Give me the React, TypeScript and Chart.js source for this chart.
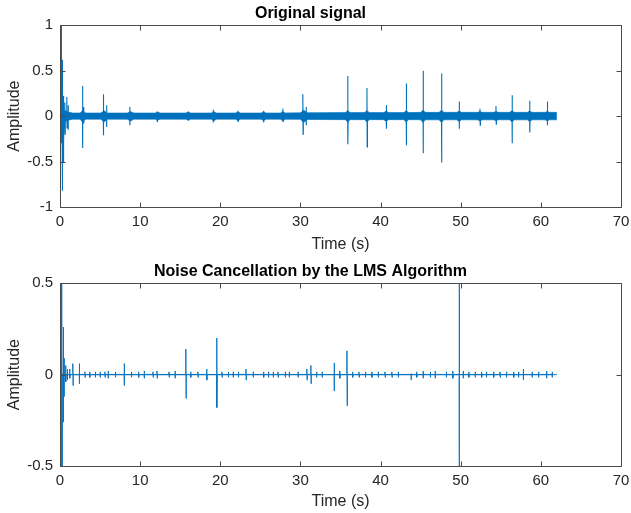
import React, { useEffect, useRef } from "react";
import { Chart, registerables } from "chart.js";
Chart.register(...registerables);

const FONT = "'Liberation Sans', Arial, Helvetica, sans-serif";
const BLUE = "#0072BD";
const AXIS = "#4a4a4a";
const TEXT = "#262626";

const xTicks = [0, 10, 20, 30, 40, 50, 60, 70];
const topYTicks = [-1, -0.5, 0, 0.5, 1];
const botYTicks = [-0.5, 0, 0.5];

const topTitle = "Original signal";
const botTitle = "Noise Cancellation by the LMS Algorithm";
const xLabel = "Time (s)";
const yLabel = "Amplitude";

// Original signal: background noise envelope
const topBandTime = [0, 0.4, 1.0, 1.6, 2.5, 2.8, 3.2, 5.1, 5.5, 5.9, 8.4, 8.8, 9.2, 11.9, 12.2, 12.5, 15.7, 16.0, 16.3, 18.9, 19.2, 19.5, 21.9, 22.2, 22.5, 25.1, 25.4, 25.7, 27.5, 27.8, 28.1, 30.0, 30.4, 30.9, 35.6, 35.9, 36.2, 38.0, 38.3, 38.6, 40.4, 40.7, 41.0, 42.9, 43.2, 43.5, 45.0, 45.3, 45.6, 47.3, 47.6, 47.9, 49.5, 49.8, 50.1, 52.1, 52.4, 52.7, 54.1, 54.4, 54.7, 56.1, 56.4, 56.7, 58.3, 58.6, 58.9, 60.5, 60.8, 61.1, 62.0];
const topBandUpper = [0.08, 0.07, 0.045, 0.034,
  0.034, 0.06, 0.034, 0.034, 0.06, 0.034, 0.034, 0.05, 0.034, 0.034, 0.045, 0.034,
  0.034, 0.045, 0.034, 0.034, 0.05, 0.034, 0.034, 0.048, 0.034, 0.034, 0.048, 0.034,
  0.034, 0.05, 0.035, 0.036, 0.065, 0.037, 0.039, 0.06, 0.039, 0.039, 0.06, 0.039,
  0.039, 0.055, 0.039, 0.039, 0.06, 0.039, 0.041, 0.065, 0.041, 0.041, 0.065, 0.041,
  0.041, 0.055, 0.041, 0.041, 0.05, 0.041, 0.041, 0.05, 0.041, 0.041, 0.06, 0.041,
  0.041, 0.055, 0.041, 0.041, 0.05, 0.041, 0.041];
const topBandLower = [-0.09, -0.07, -0.045, -0.034,
  -0.034, -0.065, -0.034, -0.034, -0.065, -0.034, -0.034, -0.055, -0.034, -0.034, -0.045, -0.034,
  -0.034, -0.045, -0.034, -0.034, -0.055, -0.034, -0.034, -0.05, -0.034, -0.034, -0.05, -0.034,
  -0.034, -0.05, -0.035, -0.036, -0.07, -0.037, -0.039, -0.065, -0.039, -0.039, -0.065, -0.039,
  -0.039, -0.06, -0.039, -0.039, -0.065, -0.039, -0.041, -0.07, -0.041, -0.041, -0.07, -0.041,
  -0.041, -0.06, -0.041, -0.041, -0.055, -0.041, -0.041, -0.05, -0.041, -0.041, -0.065, -0.041,
  -0.041, -0.06, -0.041, -0.041, -0.05, -0.041, -0.041];

// Original signal: transients
const topSpikeTime = [0.15, 0.25, 0.35, 0.45, 0.6, 0.85, 1.0, 2.8, 2.95, 5.4, 5.8, 8.7, 12.1, 16.0, 19.1, 22.2, 25.4, 27.8, 30.3, 30.7, 35.9, 38.3, 40.7, 43.2, 45.3, 47.6, 49.8, 52.4, 54.4, 56.4, 58.6, 60.8];
const topSpikeMax = [1.0, 0.62, 0.3, 0.22, 0.15, 0.21, 0.12, 0.33, 0.1, 0.24, 0.12, 0.1, 0.05, 0.05, 0.07, 0.06, 0.06, 0.08, 0.24, 0.1, 0.44, 0.31, 0.12, 0.36, 0.5, 0.47, 0.16, 0.08, 0.11, 0.23, 0.17, 0.16];
const topSpikeMin = [-0.3, -0.82, -0.5, -0.3, -0.2, -0.13, -0.15, -0.35, -0.08, -0.21, -0.12, -0.1, -0.06, -0.05, -0.07, -0.06, -0.07, -0.06, -0.2, -0.1, -0.31, -0.34, -0.14, -0.32, -0.41, -0.51, -0.14, -0.1, -0.09, -0.3, -0.18, -0.1];

// LMS output: baseline
const botBandTime = [0, 62];
const botBandUpper = [0.001, 0.001];
const botBandLower = [-0.001, -0.001];

// LMS output: transients and small residual blips
const botSpikeTime = [0.12, 0.18, 0.24, 0.4, 0.5, 0.7, 0.9, 1.2, 1.6, 2.4, 3.1, 3.7, 4.4, 5.0, 5.6, 6.0, 6.9, 8.0, 8.9, 9.8, 10.5, 11.6, 12.1, 13.6, 14.35, 15.7, 16.3, 17.2, 18.3, 19.55, 20.2, 21.0, 21.6, 22.25, 23.2, 24.1, 25.4, 26.0, 26.6, 27.2, 28.1, 28.6, 29.7, 30.8, 31.3, 32.0, 32.7, 34.2, 34.9, 35.8, 36.5, 37.3, 38.1, 38.9, 39.7, 40.55, 41.4, 42.2, 43.8, 44.5, 45.3, 46.2, 46.8, 48.2, 49.0, 49.8, 50.3, 51.0, 51.8, 52.6, 53.2, 54.1, 54.9, 55.7, 56.6, 57.2, 57.8, 58.9, 59.7, 60.7, 61.4];
const botSpikeMax = [0.6, 0.6, 0.6, 0.26, 0.09, 0.05, 0.03, 0.03, 0.06, 0.06, 0.015, 0.015, 0.015, 0.015, 0.015, 0.02, 0.015, 0.06, 0.015, 0.015, 0.02, 0.015, 0.02, 0.015, 0.02, 0.14, 0.015, 0.015, 0.03, 0.2, 0.015, 0.015, 0.015, 0.015, 0.03, 0.015, 0.015, 0.015, 0.015, 0.015, 0.015, 0.015, 0.015, 0.03, 0.05, 0.015, 0.015, 0.064, 0.02, 0.13, 0.015, 0.015, 0.015, 0.015, 0.015, 0.015, 0.015, 0.015, 0.005, 0.015, 0.02, 0.015, 0.02, 0.015, 0.02, 0.6, 0.02, 0.015, 0.015, 0.015, 0.015, 0.015, 0.015, 0.015, 0.015, 0.015, 0.03, 0.015, 0.015, 0.02, 0.015];
const botSpikeMin = [-0.6, -0.6, -0.6, -0.26, -0.12, -0.04, -0.03, -0.02, -0.06, -0.05, -0.015, -0.015, -0.015, -0.015, -0.015, -0.02, -0.015, -0.06, -0.015, -0.015, -0.02, -0.015, -0.02, -0.015, -0.02, -0.13, -0.015, -0.015, -0.03, -0.18, -0.015, -0.015, -0.015, -0.015, -0.03, -0.015, -0.015, -0.015, -0.015, -0.015, -0.015, -0.015, -0.015, -0.03, -0.05, -0.015, -0.015, -0.09, -0.02, -0.17, -0.015, -0.015, -0.015, -0.015, -0.015, -0.015, -0.015, -0.015, -0.03, -0.015, -0.02, -0.015, -0.02, -0.015, -0.02, -0.6, -0.02, -0.015, -0.015, -0.015, -0.015, -0.015, -0.015, -0.015, -0.015, -0.015, -0.03, -0.015, -0.015, -0.02, -0.015];

function bandPoints(t: number[], v: number[]) {
  const n = Math.min(t.length, v.length);
  const pts: { x: number; y: number }[] = [];
  for (let i = 0; i < n; i++) pts.push({ x: t[i], y: v[i] });
  return pts;
}

function spikePoints(t: number[], mx: number[], mn: number[]) {
  const n = Math.min(t.length, mx.length, mn.length);
  const pts: { x: number; y: number }[] = [];
  for (let i = 0; i < n; i++) {
    pts.push({ x: t[i], y: 0 }, { x: t[i], y: mx[i] }, { x: t[i] + 0.03, y: mn[i] }, { x: t[i] + 0.06, y: 0 });
  }
  return pts;
}

const boxPlugin = {
  id: "matlabBox",
  afterDatasetsDraw(chart: any) {
    const { ctx, chartArea: a, scales } = chart;
    const x = scales.x;
    const y = scales.y;
    const L = Math.round(a.left) + 0.5;
    const R = Math.round(a.right) + 0.5;
    const T = Math.round(a.top) + 0.5;
    const B = Math.round(a.bottom) + 0.5;
    ctx.save();
    ctx.strokeStyle = AXIS;
    ctx.lineWidth = 1;
    ctx.beginPath();
    ctx.rect(L, T, R - L, B - T);
    x.ticks.forEach((tk: any) => {
      const px = Math.round(x.getPixelForValue(tk.value)) + 0.5;
      ctx.moveTo(px, B);
      ctx.lineTo(px, B - 5);
      ctx.moveTo(px, T);
      ctx.lineTo(px, T + 5);
    });
    y.ticks.forEach((tk: any) => {
      const py = Math.round(y.getPixelForValue(tk.value)) + 0.5;
      ctx.moveTo(L, py);
      ctx.lineTo(L + 5, py);
      ctx.moveTo(R, py);
      ctx.lineTo(R - 5, py);
    });
    ctx.stroke();
    ctx.restore();
  },
};

type Cfg = {
  title: string;
  yTicks: number[];
  bandT: number[];
  bandU: number[];
  bandL: number[];
  spT: number[];
  spMax: number[];
  spMin: number[];
  width: number;
  height: number;
  plotBottom: number;
  xTitlePad: number;
  spikeWidth: number;
};

function Panel(props: Cfg) {
  const ref = useRef<HTMLCanvasElement>(null);
  useEffect(() => {
    if (!ref.current) return;
    const p = props;
    const chart = new Chart(ref.current, {
      type: "line",
      data: {
        datasets: [
          {
            data: bandPoints(p.bandT, p.bandU),
            borderColor: BLUE,
            backgroundColor: BLUE,
            borderWidth: 0.6,
            pointRadius: 0,
            fill: "+1",
            tension: 0,
          },
          {
            data: bandPoints(p.bandT, p.bandL),
            borderColor: BLUE,
            backgroundColor: BLUE,
            borderWidth: 0.6,
            pointRadius: 0,
            fill: false,
            tension: 0,
          },
          {
            data: spikePoints(p.spT, p.spMax, p.spMin),
            borderColor: BLUE,
            borderWidth: p.spikeWidth,
            pointRadius: 0,
            fill: false,
            tension: 0,
          },
        ],
      } as any,
      options: {
        animation: false,
        responsive: false,
        devicePixelRatio: 1,
        parsing: false as any,
        normalized: true,
        events: [],
        layout: { padding: { left: 0, right: 10, top: 0, bottom: 0 } },
        plugins: {
          legend: { display: false },
          tooltip: { enabled: false },
          title: {
            display: true,
            text: p.title,
            color: "#000",
            font: { family: FONT, size: 16, weight: "bold" },
            padding: { top: 4, bottom: 2 },
          },
        },
        scales: {
          x: {
            type: "linear",
            min: 0,
            max: 70,
            grid: { display: false, drawTicks: false },
            border: { display: false },
            afterBuildTicks: (s: any) => {
              s.ticks = xTicks.map((v) => ({ value: v }));
            },
            afterFit: (s: any) => {
              s.height = p.height - p.plotBottom;
              s.paddingLeft = 0;
              s.paddingRight = 0;
            },
            ticks: {
              color: TEXT,
              font: { family: FONT, size: 15 },
              padding: 6,
              maxRotation: 0,
              autoSkip: false,
              callback: (v: any) => String(v),
            },
            title: {
              display: true,
              text: xLabel,
              color: TEXT,
              font: { family: FONT, size: 16 },
              padding: { top: 0, bottom: p.xTitlePad },
            },
          },
          y: {
            type: "linear",
            min: p.yTicks[0],
            max: p.yTicks[p.yTicks.length - 1],
            grid: { display: false, drawTicks: false },
            border: { display: false },
            afterBuildTicks: (s: any) => {
              s.ticks = p.yTicks.map((v) => ({ value: v }));
            },
            afterFit: (s: any) => {
              s.width = 60;
            },
            ticks: {
              color: TEXT,
              font: { family: FONT, size: 15 },
              padding: 7,
              autoSkip: false,
              callback: (v: any) => String(v),
            },
            title: {
              display: true,
              text: yLabel,
              color: TEXT,
              font: { family: FONT, size: 16 },
              padding: { top: 4.5, bottom: 0 },
            },
          },
        },
      } as any,
      plugins: [boxPlugin],
    });
    return () => chart.destroy();
  }, []);
  return <canvas ref={ref} width={props.width} height={props.height} style={{ display: "block", width: props.width, height: props.height }} />;
}

export default function App() {
  return (
    <div style={{ position: "fixed", left: 0, top: 0, width: 631, height: 513, background: "#fff" }}>
      <div style={{ position: "absolute", left: 0, top: 0 }}>
        <Panel
          title={topTitle}
          yTicks={topYTicks}
          bandT={topBandTime}
          bandU={topBandUpper}
          bandL={topBandLower}
          spT={topSpikeTime}
          spMax={topSpikeMax}
          spMin={topSpikeMin}
          width={631}
          height={258}
          plotBottom={207}
          xTitlePad={4}
          spikeWidth={1.1}
        />
      </div>
      <div style={{ position: "absolute", left: 0, top: 258 }}>
        <Panel
          title={botTitle}
          yTicks={botYTicks}
          bandT={botBandTime}
          bandU={botBandUpper}
          bandL={botBandLower}
          spT={botSpikeTime}
          spMax={botSpikeMax}
          spMin={botSpikeMin}
          width={631}
          height={255}
          plotBottom={208}
          xTitlePad={1.5}
          spikeWidth={0.9}
        />
      </div>
    </div>
  );
}
